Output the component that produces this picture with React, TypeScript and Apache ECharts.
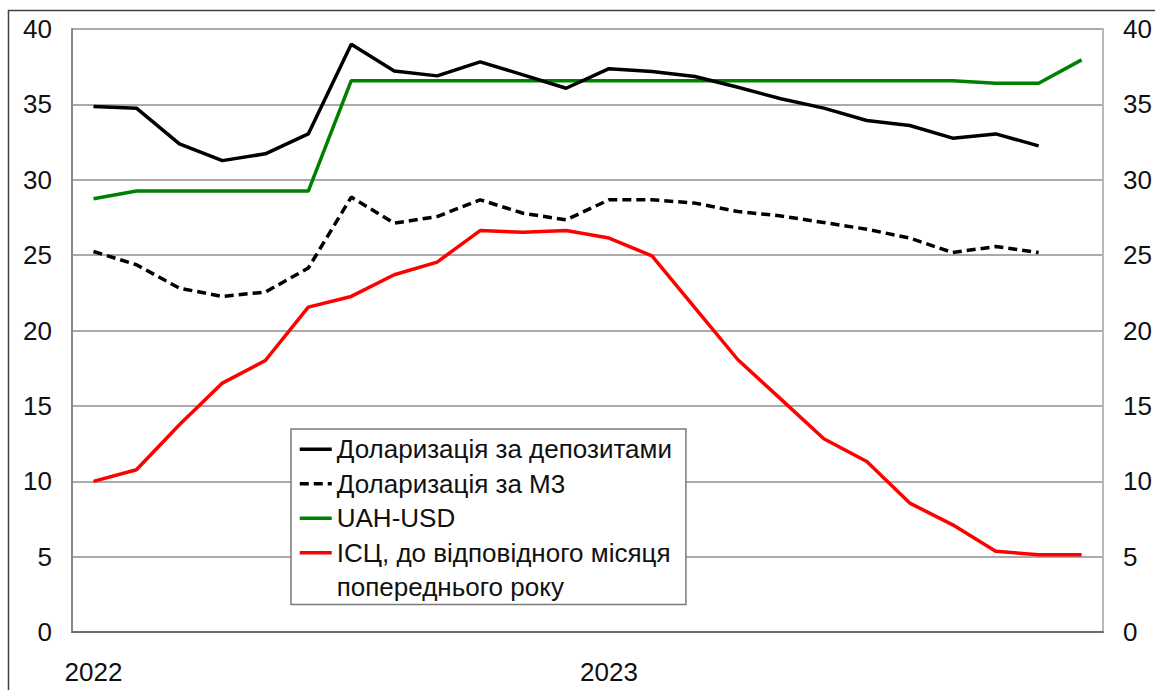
import React, { useEffect, useRef } from "react";
import * as echarts from "echarts";

const months: string[] = [
  "2022-01", "2022-02", "2022-03", "2022-04", "2022-05", "2022-06",
  "2022-07", "2022-08", "2022-09", "2022-10", "2022-11", "2022-12",
  "2023-01", "2023-02", "2023-03", "2023-04", "2023-05", "2023-06",
  "2023-07", "2023-08", "2023-09", "2023-10", "2023-11", "2023-12",
];

const depositDollarization: (number | null)[] = [
  34.86, 34.75, 32.38, 31.27, 31.72, 33.04, 38.99, 37.22, 36.89, 37.82, 36.96, 36.07,
  37.37, 37.18, 36.85, 36.14, 35.37, 34.75, 33.93, 33.6, 32.76, 33.04, 32.25, null,
];

const m3Dollarization: (number | null)[] = [
  25.24, 24.36, 22.81, 22.26, 22.55, 24.14, 28.85, 27.12, 27.56, 28.67, 27.78, 27.34,
  28.67, 28.67, 28.45, 27.89, 27.6, 27.16, 26.72, 26.13, 25.17, 25.57, 25.17, null,
];

const uahUsd: number[] = [
  28.74, 29.25, 29.25, 29.25, 29.25, 29.25, 36.57, 36.57, 36.57, 36.57, 36.57, 36.57,
  36.57, 36.57, 36.57, 36.57, 36.57, 36.57, 36.57, 36.57, 36.57, 36.4, 36.4, 37.95,
];

const cpi: number[] = [
  9.99, 10.76, 13.75, 16.51, 18.01, 21.55, 22.26, 23.7, 24.54, 26.63, 26.52, 26.63,
  26.13, 24.95, 21.5, 18.06, 15.45, 12.82, 11.31, 8.55, 7.11, 5.35, 5.13, 5.13,
];

const yTicks = { min: 0, max: 40, interval: 5 };

const seriesNames = [
  "Доларизація за депозитами",
  "Доларизація за М3",
  "UAH-USD",
  "ІСЦ, до відповідного місяця",
];
// second line of the last legend entry
const legendContinuation = "попереднього року";

const FONT = "'Liberation Sans', Arial, sans-serif";
const FS = 26;

export default function App() {
  const ref = useRef<HTMLDivElement>(null);

  useEffect(() => {
    if (!ref.current) return;
    const chart = echarts.init(ref.current, undefined, { renderer: "svg" });
    const option: any = {
      animation: false,
      backgroundColor: "#ffffff",
      textStyle: { fontFamily: FONT },
      grid: {
        left: 72,
        right: 51,
        top: 29,
        bottom: 58,
        show: true,
        borderColor: "#b0b0b0",
        borderWidth: 1.5,
        backgroundColor: "transparent",
      },
      graphic: [
        {
          type: "rect",
          shape: { x: 8.5, y: 10.5, width: 1170, height: 700 },
          style: { fill: "none", stroke: "#404040", lineWidth: 1.5 },
          silent: true,
        },
      ],
      xAxis: {
        type: "category",
        data: months,
        boundaryGap: true,
        axisLine: { show: true, lineStyle: { color: "#6e6e6e", width: 2 } },
        axisTick: { show: false },
        axisLabel: {
          interval: (i: number) => i === 0 || i === 12,
          formatter: (v: string) => v.slice(0, 4),
          color: "#111",
          fontSize: FS,
          fontFamily: FONT,
          margin: 27,
        },
        splitLine: {
          show: true,
          interval: (i: number) => i === 12,
          lineStyle: { color: "#808080", width: 2 },
        },
      },
      yAxis: [
        {
          type: "value",
          ...yTicks,
          position: "left",
          axisLine: { show: true, lineStyle: { color: "#888888", width: 2 } },
          axisTick: { show: false },
          axisLabel: { color: "#111", fontSize: FS, fontFamily: FONT, margin: 20 },
          splitLine: { show: true, lineStyle: { color: "#aaaaaa", width: 2 } },
        },
        {
          type: "value",
          ...yTicks,
          position: "right",
          axisLine: { show: true, lineStyle: { color: "#b8b8b8", width: 2 } },
          axisTick: { show: false },
          axisLabel: { color: "#111", fontSize: FS, fontFamily: FONT, margin: 20 },
          splitLine: { show: false },
        },
      ],
      legend: {
        orient: "vertical",
        left: 291,
        top: 429,
        padding: [3, 14, 0, 7],
        itemGap: 0,
        itemWidth: 32,
        itemHeight: 14,
        backgroundColor: "#ffffff",
        borderColor: "#7a7a7a",
        borderWidth: 1.5,
        itemStyle: { opacity: 0 },
        lineStyle: { width: 3.5 },
        textStyle: { color: "#111", fontSize: FS, fontFamily: FONT, lineHeight: 34.5 },
        data: [...seriesNames, legendContinuation],
      },
      series: [
        {
          name: seriesNames[0],
          type: "line",
          data: depositDollarization,
          symbol: "none",
          lineStyle: { color: "#000000", width: 3.5 },
          itemStyle: { color: "#000000" },
          z: 4,
        },
        {
          name: seriesNames[1],
          type: "line",
          data: m3Dollarization,
          symbol: "none",
          lineStyle: { color: "#000000", width: 3.5, type: [9, 5] },
          itemStyle: { color: "#000000" },
          z: 3,
        },
        {
          name: seriesNames[2],
          type: "line",
          data: uahUsd,
          symbol: "none",
          lineStyle: { color: "#008000", width: 3.5 },
          itemStyle: { color: "#008000" },
          z: 2,
        },
        {
          name: seriesNames[3],
          type: "line",
          data: cpi,
          symbol: "none",
          lineStyle: { color: "#ff0000", width: 3.5 },
          itemStyle: { color: "#ff0000" },
          z: 2,
        },
        {
          // legend-only entry carrying the wrapped second line of the CPI label
          name: legendContinuation,
          type: "line",
          data: [],
          symbol: "none",
          lineStyle: { color: "#ff0000", width: 0, opacity: 0 },
          itemStyle: { color: "#ff0000", opacity: 0 },
          silent: true,
        },
      ],
    };
    chart.setOption(option);
    return () => chart.dispose();
  }, []);

  return (
    <div
      ref={ref}
      style={{ position: "absolute", left: 0, top: 0, width: 1155, height: 690 }}
    />
  );
}
